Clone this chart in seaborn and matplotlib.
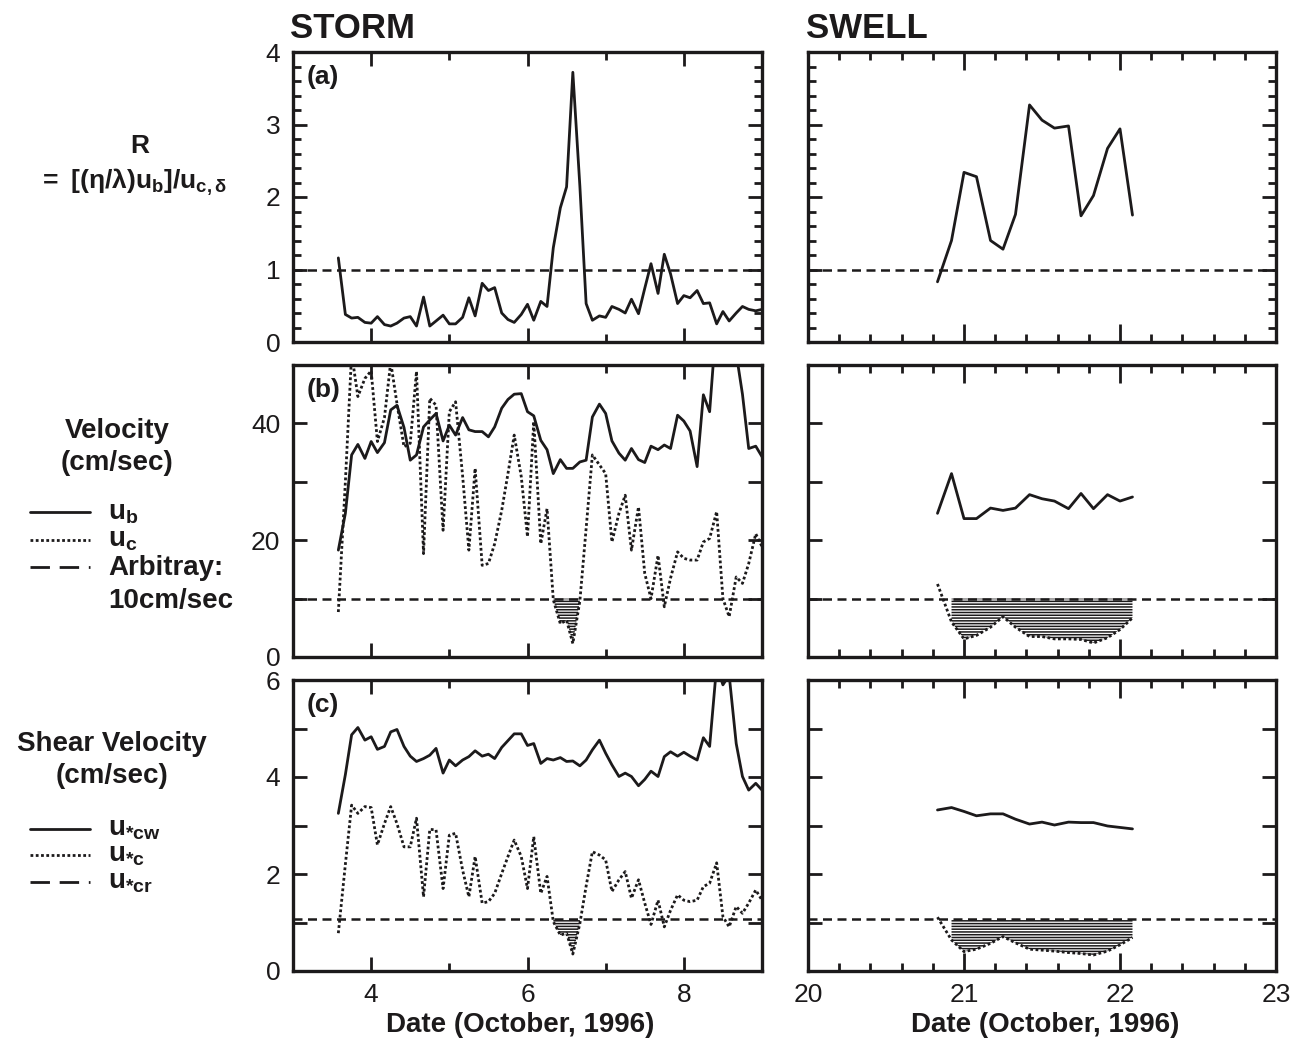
import matplotlib
matplotlib.use("Agg")
import matplotlib.pyplot as plt
from matplotlib.lines import Line2D
from matplotlib.ticker import FixedLocator, MultipleLocator, NullFormatter
import numpy as np
import seaborn as sns

# ---------------------------------------------------------------- data
# Storm period, 2-hourly samples (day of October 1996)
storm_day = [3.58, 3.67, 3.75, 3.83, 3.92, 4.00, 4.08, 4.17, 4.25, 4.33, 4.42,
             4.50, 4.58, 4.67, 4.75, 4.83, 4.92, 5.00, 5.08, 5.17, 5.25, 5.33,
             5.42, 5.50, 5.58, 5.67, 5.75, 5.83, 5.92, 6.00, 6.08, 6.17, 6.25,
             6.33, 6.42, 6.50, 6.58, 6.67, 6.75, 6.83, 6.92, 7.00, 7.08, 7.17,
             7.25, 7.33, 7.42, 7.50, 7.58, 7.67, 7.75, 7.83, 7.92, 8.00, 8.08,
             8.17, 8.25, 8.33, 8.42, 8.50, 8.58, 8.67, 8.75, 8.83, 8.92, 9.00]

storm_R = [1.16, 0.38, 0.33, 0.34, 0.27, 0.26, 0.35, 0.24, 0.22, 0.26, 0.33,
           0.35, 0.22, 0.62, 0.22, 0.29, 0.37, 0.25, 0.25, 0.34, 0.61, 0.36,
           0.81, 0.71, 0.75, 0.40, 0.31, 0.27, 0.38, 0.52, 0.30, 0.56, 0.49,
           1.30, 1.85, 2.14, 3.72, 2.15, 0.53, 0.30, 0.36, 0.34, 0.49, 0.45,
           0.40, 0.59, 0.39, 0.74, 1.08, 0.67, 1.21, 0.94, 0.53, 0.64, 0.61,
           0.71, 0.53, 0.54, 0.25, 0.42, 0.29, 0.40, 0.49, 0.45, 0.43, 0.45]

storm_ub = [18.3, 24.6, 34.6, 36.4, 34.0, 36.9, 35.0, 36.7, 42.3, 43.1, 39.3,
            33.7, 34.6, 39.4, 40.6, 41.7, 37.0, 39.7, 38.0, 41.0, 38.9, 38.6,
            38.6, 37.7, 39.4, 42.6, 44.1, 45.0, 45.1, 42.0, 41.3, 37.1, 35.5,
            31.4, 33.8, 32.3, 32.3, 33.4, 33.7, 41.1, 43.3, 41.7, 37.0, 34.9,
            33.7, 35.7, 33.8, 33.3, 36.1, 35.5, 36.3, 35.7, 41.4, 40.4, 38.7,
            32.6, 44.9, 42.0, 58.0, 62.0, 60.0, 52.0, 45.0, 35.7, 36.1, 34.3]

storm_uc = [7.7, 30.0, 52.0, 44.6, 47.7, 49.0, 36.9, 41.0, 50.5, 43.4, 36.0,
            36.6, 48.9, 17.7, 44.3, 43.1, 21.7, 42.0, 43.7, 31.0, 18.3, 32.3,
            15.7, 16.0, 19.4, 25.1, 31.4, 38.0, 30.9, 20.6, 40.3, 19.4, 25.4,
            9.8, 5.7, 6.3, 2.3, 9.6, 22.0, 34.6, 32.9, 31.4, 19.7, 24.6,
            27.7, 18.3, 25.7, 14.3, 10.0, 17.4, 8.6, 13.5, 18.0, 16.9, 16.6,
            16.6, 19.7, 20.3, 24.9, 10.0, 6.9, 13.7, 12.6, 16.0, 21.1, 18.9]

storm_ustar_cw = [3.25, 4.05, 4.87, 5.02, 4.76, 4.83, 4.57, 4.63, 4.93, 4.98, 4.63,
                  4.43, 4.32, 4.38, 4.45, 4.59, 4.08, 4.35, 4.23, 4.35, 4.42, 4.54,
                  4.43, 4.47, 4.38, 4.61, 4.75, 4.89, 4.89, 4.65, 4.69, 4.28, 4.38,
                  4.35, 4.40, 4.32, 4.33, 4.23, 4.35, 4.56, 4.76, 4.49, 4.25, 4.01,
                  4.08, 4.01, 3.82, 3.95, 4.12, 4.01, 4.42, 4.52, 4.43, 4.51, 4.43,
                  4.35, 4.81, 4.63, 6.30, 5.90, 6.10, 4.69, 4.01, 3.73, 3.87, 3.73]

storm_ustar_c = [0.78, 2.20, 3.42, 3.25, 3.39, 3.37, 2.60, 3.04, 3.39, 3.04, 2.56,
                 2.56, 3.15, 1.53, 2.92, 2.91, 1.70, 2.80, 2.84, 2.08, 1.53, 2.36,
                 1.40, 1.43, 1.60, 2.01, 2.36, 2.70, 2.36, 1.70, 2.77, 1.60, 1.95,
                 1.02, 0.74, 0.78, 0.35, 0.98, 1.75, 2.46, 2.39, 2.29, 1.64, 1.88,
                 2.05, 1.50, 1.88, 1.40, 0.96, 1.46, 0.91, 1.25, 1.57, 1.46, 1.43,
                 1.46, 1.74, 1.81, 2.23, 1.12, 0.91, 1.33, 1.19, 1.40, 1.67, 1.46]

# Swell period
swell_day = [20.83, 20.92, 21.00, 21.08, 21.17, 21.25, 21.33, 21.42,
             21.50, 21.58, 21.67, 21.75, 21.83, 21.92, 22.00, 22.08]
swell_R = [0.83, 1.40, 2.34, 2.28, 1.40, 1.28, 1.76, 3.27,
           3.06, 2.95, 2.98, 1.74, 2.02, 2.67, 2.94, 1.75]
swell_ub = [24.6, 31.4, 23.7, 23.7, 25.5, 25.1, 25.5, 27.8,
            27.1, 26.7, 25.4, 28.0, 25.4, 27.8, 26.7, 27.4]
swell_uc = [12.5, 6.0, 3.1, 3.7, 5.1, 6.9, 5.1, 3.5,
            3.5, 3.1, 3.1, 3.0, 2.4, 3.3, 4.7, 6.7]
swell_ustar_cw = [3.32, 3.37, 3.29, 3.20, 3.24, 3.24, 3.13, 3.03,
                  3.07, 3.01, 3.07, 3.06, 3.06, 2.99, 2.96, 2.93]
swell_ustar_c = [1.11, 0.64, 0.40, 0.45, 0.57, 0.71, 0.58, 0.45,
                 0.43, 0.41, 0.38, 0.36, 0.33, 0.41, 0.54, 0.69]

# Reference levels
R_ref = 1.0
uc_ref = 10.0          # arbitrary 10 cm/sec
ustar_cr = 1.07        # critical shear velocity
storm_hatch_window = (6.30, 6.70)

# Axis tick labels
storm_xticks = [4, 6, 8]
swell_xticks = [20, 21, 22, 23]
R_yticks = [0, 1, 2, 3, 4]
R_ylabels = ["0", "1", "2", "3", "4"]
vel_yticks = [0, 10, 20, 30, 40, 50]
vel_ylabels = ["0", "", "20", "", "40", ""]
shear_yticks = [0, 1, 2, 3, 4, 5, 6]
shear_ylabels = ["0", "", "2", "", "4", "", "6"]

# ---------------------------------------------------------------- style
sns.set_style("ticks")
plt.rcParams["font.family"] = ["Liberation Sans", "DejaVu Sans"]
plt.rcParams["mathtext.fontset"] = "custom"
plt.rcParams["mathtext.rm"] = "Liberation Sans:bold"
plt.rcParams["mathtext.bf"] = "Liberation Sans:bold"
plt.rcParams["mathtext.it"] = "Liberation Sans:bold"
plt.rcParams["mathtext.sf"] = "Liberation Sans:bold"
plt.rcParams["hatch.linewidth"] = 1.1

ink = "#1c1a1b"
solid_lw = 2.0
dot_style = (0, (1.0, 0.9))
dash_style = (0, (3.6, 2.2))

fig = plt.figure(figsize=(13.05, 10.38), dpi=100)
W, H = 1305.0, 1038.0


def px_rect(x0, x1, ytop, ybot):
    return [x0 / W, 1 - ybot / H, (x1 - x0) / W, (ybot - ytop) / H]


cols = [(293, 762), (808, 1276)]
rows = [(52, 342), (365, 657), (680, 971)]
axes = [[fig.add_axes(px_rect(c[0], c[1], r[0], r[1])) for c in cols] for r in rows]


def style_axis(ax):
    for sp in ax.spines.values():
        sp.set_linewidth(2.4)
        sp.set_color(ink)
        sp.set_visible(True)
    ax.tick_params(which="both", direction="in", top=True, right=True,
                   colors=ink, width=2.0, labelsize=19, pad=9)
    ax.tick_params(which="major", length=10)
    ax.tick_params(which="minor", length=6)
    ax.set_xlabel("")
    ax.set_ylabel("")


def draw_pair(ax, day, main, dotted, ref, hatch_window=None):
    sns.lineplot(x=day, y=main, ax=ax, color=ink, lw=solid_lw,
                 estimator=None, sort=False)
    sns.lineplot(x=day, y=dotted, ax=ax, color=ink, lw=2.0,
                 linestyle=dot_style, estimator=None, sort=False)
    ax.axhline(ref, color=ink, lw=1.8, ls=dash_style, zorder=3)
    d = np.asarray(day)
    v = np.asarray(dotted)
    mask = v < ref
    if hatch_window is not None:
        mask &= (d >= hatch_window[0]) & (d <= hatch_window[1])
    ax.fill_between(d, v, ref, where=mask, interpolate=False,
                    facecolor="none", edgecolor=ink, hatch="------",
                    linewidth=0)


# Row 1: R
sns.lineplot(x=storm_day, y=storm_R, ax=axes[0][0], color=ink, lw=solid_lw,
             estimator=None, sort=False)
sns.lineplot(x=swell_day, y=swell_R, ax=axes[0][1], color=ink, lw=solid_lw,
             estimator=None, sort=False)
for ax in axes[0]:
    ax.axhline(R_ref, color=ink, lw=1.8, ls=dash_style)

# Row 2: velocity
draw_pair(axes[1][0], storm_day, storm_ub, storm_uc, uc_ref, storm_hatch_window)
draw_pair(axes[1][1], swell_day, swell_ub, swell_uc, uc_ref)

# Row 3: shear velocity
draw_pair(axes[2][0], storm_day, storm_ustar_cw, storm_ustar_c, ustar_cr,
          storm_hatch_window)
draw_pair(axes[2][1], swell_day, swell_ustar_cw, swell_ustar_c, ustar_cr)

ylims = [(0, 4), (0, 50), (0, 6)]
yticks = [(R_yticks, R_ylabels), (vel_yticks, vel_ylabels),
          (shear_yticks, shear_ylabels)]
for r, row in enumerate(axes):
    for c, ax in enumerate(row):
        style_axis(ax)
        ticks, labels = yticks[r]
        ax.set_yticks(ticks)
        if c == 0:
            ax.set_yticklabels(labels)
        else:
            ax.yaxis.set_major_formatter(NullFormatter())
        if r == 0:
            ax.yaxis.set_minor_locator(MultipleLocator(0.2))
        else:
            ax.yaxis.set_minor_locator(FixedLocator([]))
        ax.set_ylim(*ylims[r])

        if c == 0:
            ax.set_xticks(storm_xticks)
            ax.xaxis.set_minor_locator(FixedLocator([5, 7]))
            ax.set_xlim(3, 9)
        else:
            ax.set_xticks(swell_xticks)
            ax.xaxis.set_minor_locator(MultipleLocator(0.2))
            ax.tick_params(axis="x", which="major", length=13)
            ax.set_xlim(20, 23)
        if r < 2:
            ax.xaxis.set_major_formatter(NullFormatter())

for ax, lab in zip([axes[0][0], axes[1][0], axes[2][0]], ["(a)", "(b)", "(c)"]):
    ax.text(0.028, 0.955, lab, transform=ax.transAxes, fontsize=19,
            fontweight="bold", va="top", ha="left", color=ink)

# ---------------------------------------------------------------- annotations
def ftext(x, y, s, **kw):
    kw.setdefault("color", ink)
    kw.setdefault("fontweight", "bold")
    fig.text(x / W, 1 - y / H, s, **kw)


ftext(290, 28, "STORM", fontsize=25, ha="left", va="center")
ftext(806, 28, "SWELL", fontsize=25, ha="left", va="center")
ftext(520, 1025, "Date (October, 1996)", fontsize=20, ha="center", va="center")
ftext(1045, 1025, "Date (October, 1996)", fontsize=20, ha="center", va="center")

ftext(140, 146, "R", fontsize=19, ha="center", va="center")
ftext(132, 182, r"$\mathrm{=\ [(η/λ)u_b]/u_{c,δ}}$", fontsize=19,
      ha="center", va="center")

ftext(117, 431, "Velocity", fontsize=20, ha="center", va="center")
ftext(117, 463, "(cm/sec)", fontsize=20, ha="center", va="center")
ftext(112, 744, "Shear Velocity", fontsize=20, ha="center", va="center")
ftext(112, 776, "(cm/sec)", fontsize=20, ha="center", va="center")


def legend_line(y, ls):
    fig.add_artist(Line2D([30 / W, 90 / W], [1 - y / H, 1 - y / H],
                          transform=fig.transFigure, color=ink, lw=2.0, ls=ls))


legend_line(512, "-")
legend_line(540, dot_style)
legend_line(567, (0, (7, 3.5)))
ftext(108, 513, r"$\mathrm{u_b}$", fontsize=20, ha="left", va="center")
ftext(108, 540, r"$\mathrm{u_c}$", fontsize=20, ha="left", va="center")
ftext(108, 568, "Arbitray:", fontsize=20, ha="left", va="center")
ftext(108, 601, "10cm/sec", fontsize=20, ha="left", va="center")

legend_line(829, "-")
legend_line(855, dot_style)
legend_line(882, (0, (7, 3.5)))
ftext(108, 829, r"$\mathrm{u_{*cw}}$", fontsize=20, ha="left", va="center")
ftext(108, 855, r"$\mathrm{u_{*c}}$", fontsize=20, ha="left", va="center")
ftext(108, 882, r"$\mathrm{u_{*cr}}$", fontsize=20, ha="left", va="center")

fig.savefig("out.png", dpi=100)
